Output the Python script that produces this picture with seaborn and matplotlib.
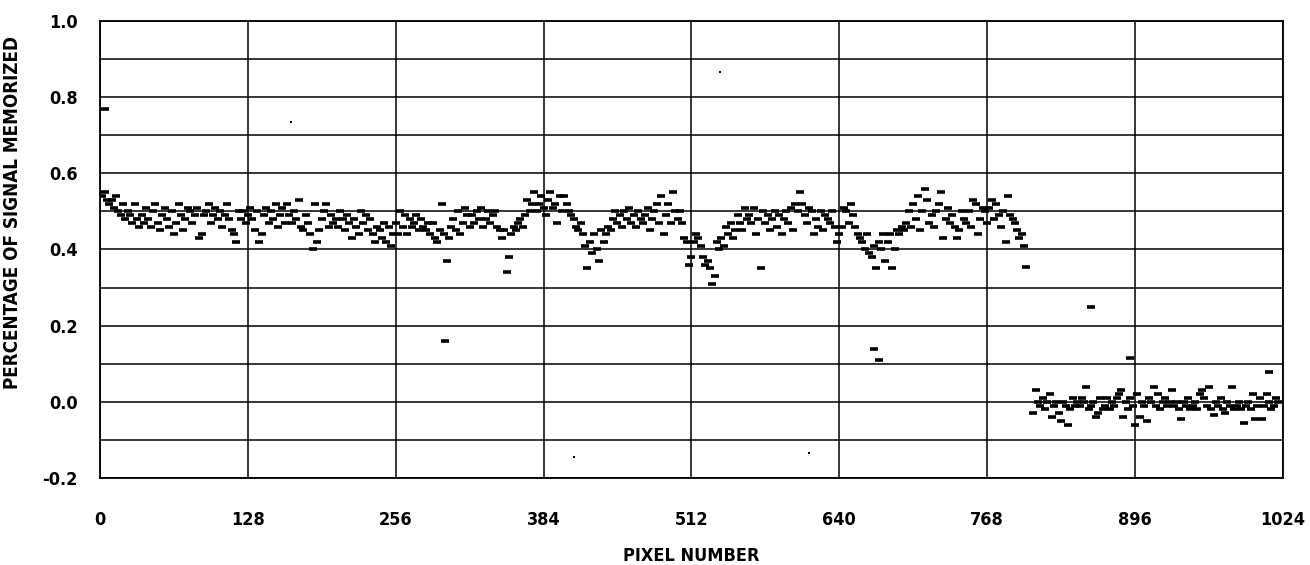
import numpy as np
import pandas as pd
import seaborn as sns
import matplotlib.pyplot as plt

# pixel numbers of the two sampled bands
band1_pixels = np.arange(2, 801, 2)
band2_pixels = np.arange(808, 1021, 2)

# memorized fraction (rows of 20 pixels)
band1_signal = [
    0.54, 0.55, 0.53, 0.52, 0.53, 0.51, 0.54, 0.50, 0.49, 0.52, 0.48, 0.50, 0.49, 0.47, 0.52, 0.48, 0.46, 0.49, 0.47, 0.51,
    0.48, 0.46, 0.50, 0.52, 0.47, 0.45, 0.49, 0.51, 0.48, 0.46, 0.50, 0.44, 0.47, 0.52, 0.49, 0.45, 0.48, 0.51, 0.50, 0.47,
    0.49, 0.51, 0.43, 0.44, 0.49, 0.50, 0.52, 0.47, 0.49, 0.51, 0.48, 0.50, 0.46, 0.49, 0.52, 0.48, 0.45, 0.44, 0.42, 0.50,
    0.48, 0.50, 0.47, 0.49, 0.51, 0.48, 0.45, 0.50, 0.42, 0.44, 0.49, 0.51, 0.47, 0.50, 0.48, 0.52, 0.46, 0.49, 0.51, 0.47,
    0.52, 0.49, 0.47, 0.50, 0.48, 0.53, 0.46, 0.45, 0.49, 0.47, 0.44, 0.40, 0.52, 0.42, 0.45, 0.48, 0.50, 0.52, 0.46, 0.49,
    0.47, 0.48, 0.46, 0.50, 0.48, 0.45, 0.49, 0.47, 0.43, 0.48, 0.46, 0.44, 0.50, 0.47, 0.49, 0.45, 0.48, 0.44, 0.42, 0.46,
    0.45, 0.43, 0.47, 0.42, 0.46, 0.41, 0.44, 0.47, 0.44, 0.50, 0.46, 0.49, 0.44, 0.48, 0.46, 0.47, 0.49, 0.45, 0.48, 0.46,
    0.45, 0.47, 0.44, 0.47, 0.43, 0.42, 0.45, 0.52, 0.44, 0.37, 0.43, 0.46, 0.48, 0.45, 0.50, 0.44, 0.47, 0.51, 0.49, 0.46,
    0.49, 0.47, 0.50, 0.48, 0.51, 0.46, 0.48, 0.50, 0.47, 0.49, 0.50, 0.46, 0.45, 0.43, 0.45, 0.34, 0.38, 0.44, 0.46, 0.45,
    0.47, 0.48, 0.46, 0.49, 0.53, 0.50, 0.52, 0.55, 0.50, 0.52, 0.54, 0.51, 0.49, 0.53, 0.55, 0.51, 0.52, 0.47, 0.54, 0.50,
    0.54, 0.52, 0.50, 0.49, 0.48, 0.46, 0.45, 0.47, 0.44, 0.41, 0.35, 0.42, 0.39, 0.44, 0.40, 0.37, 0.45, 0.42, 0.44, 0.46,
    0.45, 0.48, 0.50, 0.47, 0.49, 0.46, 0.50, 0.48, 0.51, 0.47, 0.49, 0.46, 0.50, 0.48, 0.47, 0.49, 0.51, 0.45, 0.48, 0.50,
    0.52, 0.47, 0.54, 0.44, 0.49, 0.52, 0.47, 0.55, 0.50, 0.48, 0.50, 0.47, 0.43, 0.42, 0.36, 0.38, 0.42, 0.44, 0.43, 0.41,
    0.38, 0.36, 0.37, 0.35, 0.31, 0.33, 0.42, 0.40, 0.43, 0.41, 0.46, 0.44, 0.47, 0.43, 0.45, 0.49, 0.47, 0.45, 0.51, 0.48,
    0.49, 0.47, 0.51, 0.44, 0.48, 0.35, 0.50, 0.47, 0.49, 0.45, 0.48, 0.50, 0.46, 0.49, 0.44, 0.48, 0.50, 0.47, 0.51, 0.45,
    0.52, 0.50, 0.55, 0.52, 0.49, 0.47, 0.51, 0.50, 0.44, 0.48, 0.46, 0.50, 0.45, 0.49, 0.48, 0.47, 0.50, 0.46, 0.42, 0.44,
    0.46, 0.51, 0.50, 0.47, 0.52, 0.49, 0.46, 0.44, 0.43, 0.42, 0.40, 0.44, 0.39, 0.38, 0.41, 0.35, 0.42, 0.40, 0.44, 0.37,
    0.42, 0.44, 0.35, 0.40, 0.45, 0.44, 0.46, 0.45, 0.47, 0.50, 0.46, 0.52, 0.48, 0.54, 0.45, 0.50, 0.56, 0.53, 0.47, 0.49,
    0.46, 0.50, 0.52, 0.55, 0.43, 0.48, 0.51, 0.47, 0.49, 0.46, 0.43, 0.45, 0.50, 0.48, 0.47, 0.50, 0.46, 0.53, 0.52, 0.44,
    0.48, 0.51, 0.50, 0.47, 0.51, 0.53, 0.48, 0.52, 0.49, 0.46, 0.50, 0.42, 0.54, 0.49, 0.48, 0.47, 0.45, 0.43, 0.44, 0.41,
]

band2_signal = [
    -0.03, 0.03, 0.00, -0.01, 0.01, -0.02, 0.00, 0.02, -0.04, -0.01, 0.00, -0.03, -0.05, 0.00, -0.01, -0.06, -0.02, 0.01, -0.01, 0.00,
    -0.01, 0.01, 0.00, 0.04, -0.02, -0.01, 0.00, -0.04, -0.03, 0.01, -0.02, -0.01, 0.01, -0.02, 0.00, -0.01, 0.01, 0.02, 0.03, -0.04,
    0.00, -0.02, 0.01, -0.01, -0.06, 0.02, -0.04, 0.00, -0.01, -0.05, 0.01, 0.00, 0.04, -0.01, 0.02, -0.02, 0.00, 0.01, -0.01, 0.00,
    0.03, -0.01, 0.00, -0.02, -0.045, 0.00, -0.01, 0.01, -0.02, -0.01, 0.00, -0.02, 0.02, 0.03, 0.01, -0.01, 0.04, -0.02, -0.035, 0.00,
    -0.01, 0.01, -0.02, -0.03, 0.00, -0.01, 0.04, -0.02, -0.01, 0.00, -0.02, -0.055, -0.01, 0.00, -0.02, 0.02, -0.045, -0.01, 0.01, -0.045,
    -0.01, 0.02, 0.00, -0.02, -0.01, 0.01, 0.00,
]

# isolated dashes away from the bands
stray_pixels = [4, 299, 670, 674, 802, 858, 892, 1012]
stray_signal = [0.77, 0.16, 0.138, 0.109, 0.353, 0.249, 0.115, 0.078]

# single-dot points
dot_pixels = [165, 410, 537, 614]
dot_signal = [0.735, -0.145, 0.865, -0.135]

df = pd.DataFrame({
    "pixel": np.concatenate([band1_pixels, band2_pixels, stray_pixels]),
    "signal": np.concatenate([band1_signal, band2_signal, stray_signal]),
})
dots = pd.DataFrame({"pixel": dot_pixels, "signal": dot_signal})

sns.set_style("white")
plt.rcParams['font.family'] = ['DejaVu Sans']
plt.rcParams['font.stretch'] = 'condensed'
plt.rcParams['font.weight'] = 'bold'
plt.rcParams['text.color'] = 'black'
plt.rcParams['axes.labelcolor'] = 'black'
plt.rcParams['xtick.color'] = 'black'
plt.rcParams['ytick.color'] = 'black'

fig = plt.figure(figsize=(13.1, 5.65), dpi=100)
ax = fig.add_axes([0.0763, 0.154, 0.903, 0.809])

sns.scatterplot(data=df, x="pixel", y="signal", marker="_", s=36, linewidth=2.6,
                color="black", ax=ax, zorder=3)
sns.scatterplot(data=dots, x="pixel", y="signal", marker="s", s=3, linewidth=0,
                color="black", ax=ax, zorder=3)

ax.set_xlim(0, 1024)
ax.set_ylim(-0.2, 1.0)
ax.set_xticks(range(0, 1025, 128))
ax.set_yticks(np.arange(-0.2, 1.01, 0.2))
ax.set_yticks(np.arange(-0.1, 1.0, 0.2), minor=True)
ax.set_yticklabels([f"{v:.1f}" for v in np.arange(-0.2, 1.01, 0.2)])
ax.grid(which="both", axis="y", color="black", linewidth=1.1)
ax.grid(which="major", axis="x", color="black", linewidth=1.1)
for s in ax.spines.values():
    s.set_color("black")
    s.set_linewidth(1.3)

ax.tick_params(axis="y", which="major", length=6, width=1.1, color="black", pad=10, labelsize=13)
ax.tick_params(axis="y", which="minor", length=0)
ax.tick_params(axis="x", length=0, pad=24, labelsize=13)

ax.set_xlabel("PIXEL NUMBER", fontsize=13, fontweight="bold", labelpad=13)
ax.set_ylabel("PERCENTAGE OF SIGNAL MEMORIZED", fontsize=13.5, fontweight="bold")
ax.yaxis.set_label_coords(-0.066, 0.58)

fig.savefig("out.png", dpi=100)
